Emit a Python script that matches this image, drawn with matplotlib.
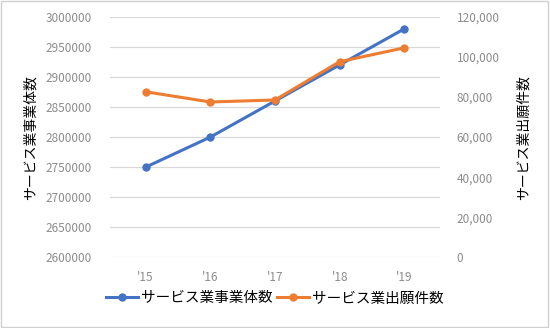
import matplotlib
matplotlib.use("Agg")
import matplotlib.pyplot as plt
from matplotlib.ticker import FuncFormatter

plt.rcParams['font.family'] = ['Noto Sans CJK JP', 'DejaVu Sans']

years = ["'15", "'16", "'17", "'18", "'19"]
businesses = [2750000, 2800000, 2860000, 2920000, 2980000]
applications = [82600, 77500, 78500, 97600, 104500]

blue = "#4472c4"
orange = "#ed7d31"
tick_color = "#8c8c8c"

fig = plt.figure(figsize=(5.5, 3.28), dpi=100)
ax = fig.add_axes([0.2, 0.215, 0.6, 0.734])
ax2 = ax.twinx()

x = range(len(years))
ax.plot(x, businesses, color=blue, lw=2.2, marker="o", ms=5, zorder=3,
        label="サービス業事業体数")
ax2.plot(x, applications, color=orange, lw=2.2, marker="o", ms=5, zorder=3,
         label="サービス業出願件数")

ax.set_ylim(2600000, 3000000)
ax.set_yticks(range(2600000, 3000001, 50000))
ax.yaxis.set_major_formatter(FuncFormatter(lambda v, p: f"{int(v)}"))
ax2.set_ylim(0, 120000)
ax2.set_yticks(range(0, 120001, 20000))
ax2.yaxis.set_major_formatter(FuncFormatter(lambda v, p: f"{int(v):,}"))
ax.set_xlim(-0.55, 4.55)
ax.set_xticks(list(x))
ax.set_xticklabels(years)

ax.grid(axis="y", color="#d9d9d9", lw=0.9)
ax.set_axisbelow(True)
for a in (ax, ax2):
    for s in a.spines.values():
        s.set_visible(False)
    a.tick_params(length=0, colors=tick_color, labelsize=8.5)
ax.tick_params(axis="y", pad=13)
ax.tick_params(axis="x", pad=10)
ax2.tick_params(axis="y", pad=12)

ax.set_ylabel("サービス業事業体数", fontsize=10, labelpad=6)
ax2.set_ylabel("サービス業出願件数", fontsize=10, labelpad=12)

h1, l1 = ax.get_legend_handles_labels()
h2, l2 = ax2.get_legend_handles_labels()
fig.legend(h1 + h2, l1 + l2, loc="center", bbox_to_anchor=(0.5, 0.09), ncol=2,
           frameon=False, fontsize=10.5, handlelength=2.2, columnspacing=0.3,
           handletextpad=0.2)

fig.patches.append(plt.Rectangle((0.002, 0.004), 0.994, 0.992, transform=fig.transFigure,
                                 fill=False, edgecolor="#d0d0d0", lw=1))

fig.savefig("out.png", dpi=100)
